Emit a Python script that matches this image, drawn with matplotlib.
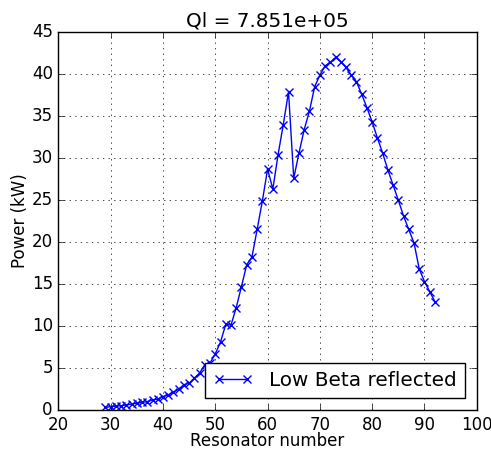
import matplotlib
matplotlib.use("Agg")
import matplotlib.pyplot as plt

plt.style.use("classic")

resonator = list(range(29, 93))
power_kw = [
    0.3, 0.4, 0.45, 0.5, 0.6, 0.7, 0.8, 0.9, 1.0, 1.2, 1.3, 1.6,   # 29-40
    1.8, 2.1, 2.5, 3.0, 3.2, 3.8, 4.4, 5.4, 5.6, 6.7,              # 41-50
    8.1, 10.2, 10.1, 12.2, 14.7, 17.3, 18.2, 21.5, 24.9, 28.7,     # 51-60
    26.3, 30.4, 34.0, 37.9, 27.6, 30.6, 33.4, 35.6, 38.5, 39.9,    # 61-70
    41.0, 41.4, 42.0, 41.5, 40.8, 39.9, 39.1, 37.6, 36.0, 34.3,    # 71-80
    32.4, 30.6, 28.6, 26.8, 25.0, 23.1, 21.5, 19.9, 16.8, 15.3,    # 81-90
    14.1, 12.9,                                                    # 91-92
]
title_text = "Ql = 7.851e+05"
series_label = "Low Beta reflected"

fig = plt.figure(figsize=(4.91, 4.54), dpi=100, facecolor="white")
ax = fig.add_axes([0.119, 0.097, 0.852, 0.832])
ax.plot(resonator, power_kw, color="blue", marker="x", markersize=6,
        markeredgewidth=1.0, linewidth=1.0, label=series_label)
ax.set_xlim(20, 100)
ax.set_ylim(0, 45)
ax.set_xticks(range(20, 101, 10))
ax.set_yticks(range(0, 46, 5))
ax.grid(True, linestyle=":", color="black")
ax.set_xlabel("Resonator number", labelpad=-1)
ax.set_ylabel("Power (kW)", labelpad=2)
ax.set_title(title_text, pad=4)
ax.legend(loc="lower right", numpoints=2, fancybox=False, borderaxespad=0.6)
fig.savefig("out.png", dpi=100, facecolor="white")
